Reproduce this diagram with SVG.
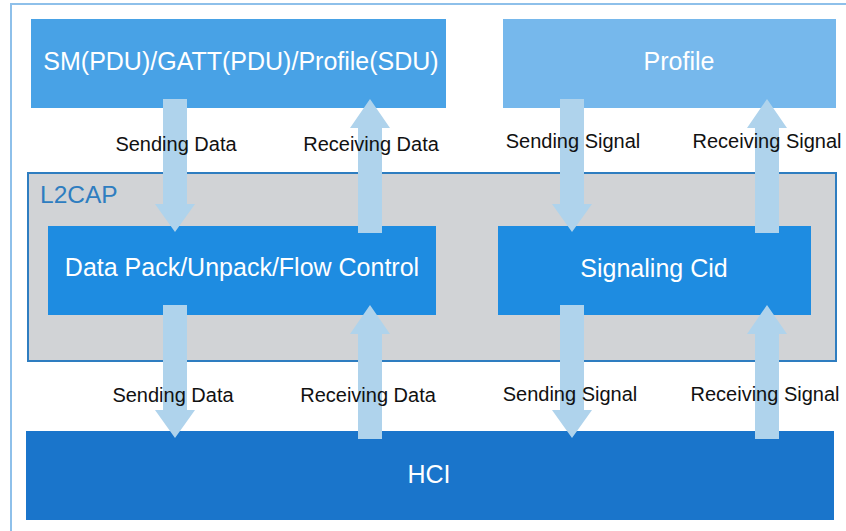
<svg xmlns="http://www.w3.org/2000/svg" width="846" height="531" viewBox="0 0 846 531">
<style>
.box text, .lbl { font-family: "Liberation Sans", Arial, sans-serif; }
.boxtxt { fill: #ffffff; font-size: 25px; text-anchor: middle; }
.lbl { fill: #111111; font-size: 20px; text-anchor: middle; }
.arrow { fill: #afd3ec; }
</style>
<defs>
<path id="down" d="M-12,0 H12 V105 H20 L0,133 L-20,105 H-12 Z"/>
<path id="up" d="M0,0 L20,29 H12 V134 H-12 V29 H-20 Z"/>
</defs>
<rect width="846" height="531" fill="#ffffff"/>
<rect x="11" y="4" width="850" height="545" fill="none" stroke="#8ec0ea" stroke-width="2"/>

<g id="node-top-data" class="box">
<rect x="31" y="19" width="415" height="89" fill="#48a2e6"/>
<text class="boxtxt" x="241" y="70">SM(PDU)/GATT(PDU)/Profile(SDU)</text>
</g>
<g id="node-profile" class="box">
<rect x="503" y="19" width="333" height="89" fill="#76b8ec"/>
<text class="boxtxt" x="679" y="70">Profile</text>
</g>
<g id="node-l2cap" class="box">
<rect x="28" y="173" width="808" height="188" fill="#d1d3d6" stroke="#2e7dc0" stroke-width="2"/>
<text x="40" y="203" font-size="24.5" fill="#2e7dc0">L2CAP</text>
</g>
<g id="node-datapack" class="box">
<rect x="48" y="226" width="388" height="89" fill="#1e8ce1"/>
<text class="boxtxt" x="242" y="276">Data Pack/Unpack/Flow Control</text>
</g>
<g id="node-signaling" class="box">
<rect x="498" y="226" width="313" height="89" fill="#1e8ce1"/>
<text class="boxtxt" x="654" y="277">Signaling Cid</text>
</g>
<g id="node-hci" class="box">
<rect x="26" y="431" width="808" height="89" fill="#1a75cb"/>
<text class="boxtxt" x="429" y="483">HCI</text>
</g>

<g id="connectors" class="arrow">
<use href="#down" x="175" y="99"/>
<use href="#up" x="370" y="99"/>
<use href="#down" x="572" y="99"/>
<use href="#up" x="767" y="99"/>
<use href="#down" x="175" y="305"/>
<use href="#up" x="370" y="305"/>
<use href="#down" x="572" y="305"/>
<use href="#up" x="767" y="305"/>
</g>

<g id="labels">
<text class="lbl" x="176" y="151">Sending Data</text>
<text class="lbl" x="371" y="151">Receiving Data</text>
<text class="lbl" x="573" y="148">Sending Signal</text>
<text class="lbl" x="767" y="148">Receiving Signal</text>
<text class="lbl" x="173" y="402">Sending Data</text>
<text class="lbl" x="368" y="402">Receiving Data</text>
<text class="lbl" x="570" y="401">Sending Signal</text>
<text class="lbl" x="765" y="401">Receiving Signal</text>
</g>
</svg>
